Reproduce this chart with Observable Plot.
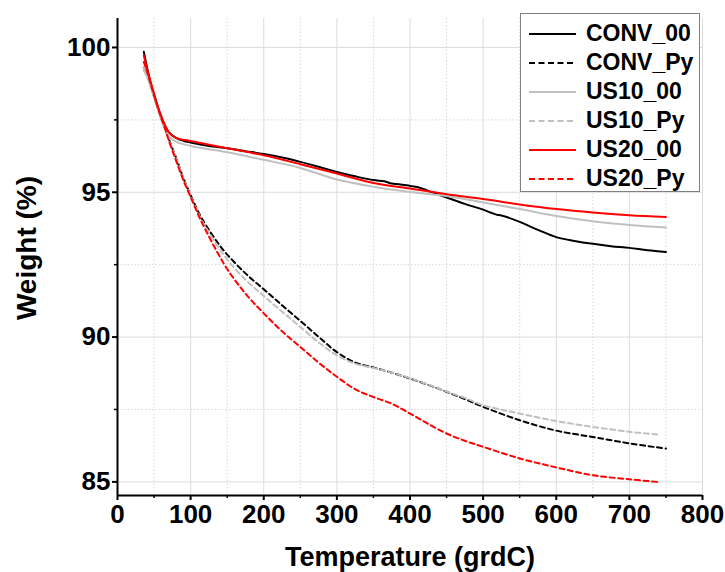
<!DOCTYPE html>
<html>
<head>
<meta charset="utf-8">
<script src="https://cdn.jsdelivr.net/npm/d3@7"></script>
<script src="https://cdn.jsdelivr.net/npm/@observablehq/plot@0.6"></script>
<style>
  html, body { margin: 0; padding: 0; background: #fff; }
  #wrap { position: relative; width: 725px; height: 572px; font-family: "Liberation Sans", Arial, sans-serif; }
  #legend { position: absolute; left: 520px; top: 13px; width: 180px; height: 179px; border: 1px solid #808080; background: #fff; box-sizing: border-box; padding-top: 5px; }
  .row { display: flex; align-items: center; height: 29px; }
  .row svg { margin-left: 8px; margin-right: 10px; }
  .row span { font-weight: bold; font-size: 23px; color: #000; line-height: 29px; }
</style>
</head>
<body>
<div id="wrap"></div>
<script>
// ---- data ----
const seriesNames = ["CONV_00", "CONV_Py", "US10_00", "US10_Py", "US20_00", "US20_Py"];
const seriesColors = ["#000000", "#000000", "#c0c0c0", "#c0c0c0", "#ff0000", "#ff0000"];
const seriesDashed = [false, true, false, true, false, true];

const conv00T = [36, 40, 45, 50, 55, 60, 65, 70, 80, 90, 100, 125, 150, 175, 200, 225, 250, 275, 300, 325, 350, 365, 375, 385, 400, 410, 425, 450, 475, 500, 510, 519, 525, 550, 575, 600, 625, 650, 675, 700, 725, 750];
const conv00W = [99.85, 99.35, 98.8, 98.35, 97.95, 97.6, 97.3, 97.08, 96.88, 96.78, 96.72, 96.6, 96.52, 96.42, 96.32, 96.2, 96.05, 95.88, 95.7, 95.55, 95.42, 95.38, 95.3, 95.28, 95.22, 95.18, 95.05, 94.82, 94.6, 94.4, 94.3, 94.22, 94.2, 93.98, 93.7, 93.45, 93.32, 93.22, 93.14, 93.08, 93.0, 92.94];

const us1000T = [36, 40, 50, 60, 70, 80, 100, 150, 200, 250, 300, 350, 400, 450, 500, 550, 600, 650, 700, 750];
const us1000W = [99.3, 99.05, 98.3, 97.5, 96.95, 96.75, 96.6, 96.38, 96.12, 95.84, 95.44, 95.19, 95.01, 94.87, 94.65, 94.42, 94.18, 94.0, 93.87, 93.78];

const us2000T = [36, 40, 50, 60, 70, 80, 100, 150, 200, 250, 300, 350, 400, 450, 500, 550, 600, 650, 700, 750];
const us2000W = [99.72, 99.3, 98.4, 97.6, 97.08, 96.88, 96.77, 96.52, 96.28, 95.97, 95.65, 95.32, 95.13, 94.93, 94.77, 94.58, 94.42, 94.3, 94.21, 94.15];

const convPyT = [36, 40, 50, 60, 65, 70, 80, 90, 100, 110, 120, 135, 150, 175, 200, 225, 250, 275, 300, 325, 350, 375, 400, 425, 450, 475, 500, 550, 600, 650, 700, 750];
const convPyW = [99.3, 99.1, 98.3, 97.55, 97.2, 96.85, 96.2, 95.5, 94.9, 94.35, 93.9, 93.33, 92.85, 92.2, 91.65, 91.1, 90.56, 90.01, 89.48, 89.12, 88.95, 88.77, 88.57, 88.35, 88.11, 87.86, 87.59, 87.13, 86.77, 86.55, 86.33, 86.15];

const us10PyT = [36, 40, 50, 60, 65, 70, 80, 90, 100, 110, 120, 135, 150, 175, 200, 225, 250, 275, 300, 325, 350, 375, 400, 425, 450, 475, 500, 550, 600, 650, 700, 738];
const us10PyW = [99.2, 99.0, 98.3, 97.55, 97.2, 96.85, 96.2, 95.5, 94.88, 94.3, 93.82, 93.22, 92.68, 91.98, 91.42, 90.88, 90.35, 89.82, 89.37, 89.08, 88.93, 88.77, 88.58, 88.36, 88.12, 87.9, 87.65, 87.36, 87.1, 86.9, 86.73, 86.64];

const us20PyT = [36, 40, 50, 60, 65, 70, 80, 90, 100, 110, 120, 135, 150, 175, 200, 225, 250, 275, 300, 325, 350, 375, 400, 425, 450, 475, 500, 550, 600, 650, 700, 738];
const us20PyW = [99.5, 99.2, 98.35, 97.55, 97.2, 96.8, 96.1, 95.42, 94.84, 94.25, 93.72, 93.0, 92.35, 91.5, 90.82, 90.2, 89.66, 89.12, 88.63, 88.2, 87.93, 87.7, 87.36, 87.0, 86.67, 86.42, 86.21, 85.81, 85.5, 85.23, 85.09, 85.0];

const xMajorTicks = [0, 100, 200, 300, 400, 500, 600, 700, 800];
const xMinorTicks = [50, 150, 250, 350, 450, 550, 650, 750];
const yMajorTicks = [85, 90, 95, 100];
const yMinorTicks = [87.5, 92.5, 97.5];
const xDomain = [0, 800];
const yDomain = [84.53, 101];
const xTitle = "Temperature (grdC)";
const yTitle = "Weight (%)";

// ---- build table ----
const seriesT = [conv00T, convPyT, us1000T, us10PyT, us2000T, us20PyT];
const seriesW = [conv00W, convPyW, us1000W, us10PyW, us2000W, us20PyW];
const rows = [];
seriesNames.forEach((name, i) => {
  seriesT[i].forEach((t, j) => rows.push({series: name, T: t, W: seriesW[i][j]}));
});

const FONT = "'Liberation Sans', Arial, sans-serif";

const lineMarks = seriesNames.map((name, i) =>
  Plot.line(rows.filter(d => d.series === name), {
    x: "T", y: "W",
    stroke: seriesColors[i],
    strokeWidth: 2,
    strokeDasharray: seriesDashed[i] ? "5,3.5" : null,
    curve: "catmull-rom"
  })
);

const chart = Plot.plot({
  width: 725,
  height: 572,
  marginLeft: 117,
  marginRight: 23,
  marginTop: 18,
  marginBottom: 77,
  style: {fontFamily: FONT, background: "#fff", color: "#000"},
  x: {domain: xDomain},
  y: {domain: yDomain},
  marks: [
    Plot.gridX(xMinorTicks, {stroke: "#d8d8d8", strokeOpacity: 1, strokeDasharray: "1.5,2"}),
    Plot.gridY(yMinorTicks, {stroke: "#d8d8d8", strokeOpacity: 1, strokeDasharray: "1.5,2"}),
    Plot.gridX(xMajorTicks.slice(1), {stroke: "#dcdcdc", strokeOpacity: 1}),
    Plot.gridY(yMajorTicks, {stroke: "#dcdcdc", strokeOpacity: 1}),
    Plot.axisX({ticks: xMinorTicks, tickSize: 3, tickFormat: () => "", strokeWidth: 1.5, label: null}),
    Plot.axisY({ticks: yMinorTicks, tickSize: 3, tickFormat: () => "", strokeWidth: 1.5, label: null}),
    Plot.axisX({ticks: xMajorTicks, tickSize: 5, tickPadding: 4, fontSize: 26, fontWeight: "bold", strokeWidth: 2, label: null}),
    Plot.axisY({ticks: yMajorTicks, tickSize: 5, tickPadding: 2, fontSize: 26, fontWeight: "bold", strokeWidth: 2, label: null}),
    ...lineMarks,
    Plot.ruleX([xDomain[0]], {stroke: "#000", strokeWidth: 2}),
    Plot.ruleY([yDomain[0]], {stroke: "#000", strokeWidth: 2}),
    Plot.text([xTitle], {frameAnchor: "bottom", lineAnchor: "middle", dy: 62, fontSize: 27, fontWeight: "bold", fill: "#000"}),
    Plot.text([yTitle], {frameAnchor: "left", textAnchor: "middle", lineAnchor: "middle", rotate: -90, dx: -90, dy: -9, fontSize: 28, fontWeight: "bold", fill: "#000"})
  ]
});

const wrap = document.getElementById("wrap");
wrap.appendChild(chart);

// ---- legend ----
const legend = document.createElement("div");
legend.id = "legend";
seriesNames.forEach((name, i) => {
  const row = document.createElement("div");
  row.className = "row";
  const dash = seriesDashed[i] ? `stroke-dasharray="6,3.5"` : "";
  row.innerHTML = `<svg width="47" height="10"><line x1="0" y1="5" x2="47" y2="5" stroke="${seriesColors[i]}" stroke-width="2" ${dash}/></svg><span>${name}</span>`;
  legend.appendChild(row);
});
wrap.appendChild(legend);
</script>
</body>
</html>
